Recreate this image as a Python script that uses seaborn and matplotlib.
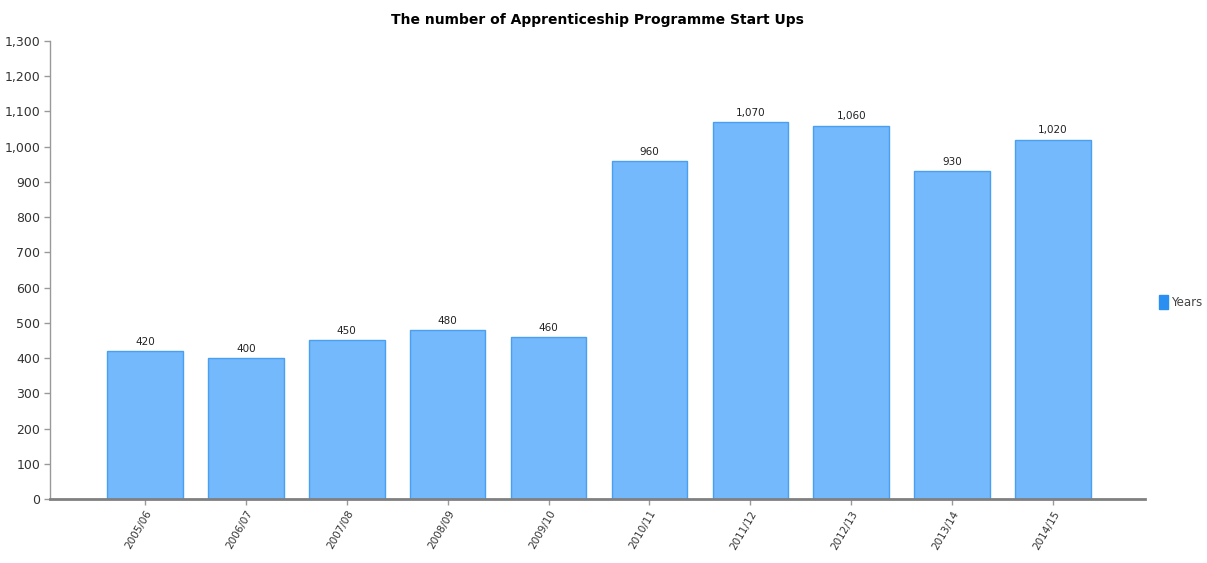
import matplotlib
matplotlib.use("Agg")
import matplotlib.pyplot as plt
import seaborn as sns
import pandas as pd
from matplotlib.patches import Patch

#data
years = ["2005/06", "2006/07", "2007/08", "2008/09", "2009/10",
         "2010/11", "2011/12", "2012/13", "2013/14", "2014/15"]
start_ups = [420, 400, 450, 480, 460, 960, 1070, 1060, 930, 1020]
y_ticks = list(range(0, 1301, 100))

df = pd.DataFrame({"Year": years, "Count": start_ups})

sns.set_style("white")
plt.rcParams['font.family'] = ['DejaVu Sans']

fig = plt.figure(figsize=(12.07, 5.63), dpi=100)
ax = fig.add_axes([0.0414, 0.1137, 0.9072, 0.8135])

sns.barplot(data=df, x="Year", y="Count", color="#74b9fc", width=0.75,
            edgecolor="#4a9ff0", linewidth=1, saturation=1, ax=ax)

#value labels on top of each bar
for i, v in enumerate(start_ups):
    ax.text(i, v + 12, "{:,}".format(v), ha="center", va="bottom",
            fontsize=7.5, color="#222222")

ax.set_xlim(-0.94, 9.91)
ax.set_ylim(0, 1300)
ax.set_yticks(y_ticks)
ax.set_yticklabels(["{:,}".format(t) for t in y_ticks], fontsize=9, color="#333333")
ax.set_xticks(range(len(years)))
ax.set_xticklabels(years, rotation=60, ha="right", rotation_mode="anchor",
                   fontsize=7.5, color="#333333")
ax.set_xlabel("")
ax.set_ylabel("")

for s in ["top", "right"]:
    ax.spines[s].set_visible(False)
ax.spines["left"].set_color("#999999")
ax.spines["left"].set_linewidth(1)
ax.spines["bottom"].set_color("#808080")
ax.spines["bottom"].set_linewidth(2)
ax.tick_params(axis="both", which="both", length=4, color="#999999", width=1,
               left=True, bottom=True, pad=3)

ax.set_title("The number of Apprenticeship Programme Start Ups",
             fontsize=10, fontweight="bold", color="black", pad=12)

fig.legend(handles=[Patch(facecolor="#2a8ff0", edgecolor="#2a8ff0", label="Years")],
           loc="center left", bbox_to_anchor=(0.960, 0.463), frameon=False,
           fontsize=8.5, handlelength=0.8, handleheight=1.4, handletextpad=0.25,
           borderaxespad=0, borderpad=0, labelcolor="#444444")

fig.savefig("out.png", dpi=100)
